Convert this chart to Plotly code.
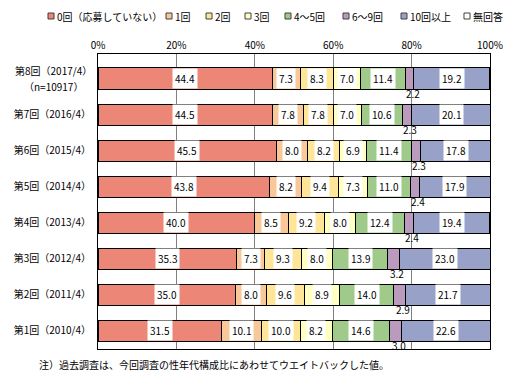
import plotly.graph_objects as go

categories = ["第8回（2017/4）", "第7回（2016/4）", "第6回（2015/4）", "第5回（2014/4）",
              "第4回（2013/4）", "第3回（2012/4）", "第2回（2011/4）", "第1回（2010/4）"]
n_label = "（n=10917）"
series_names = ["0回（応募していない）", "1回", "2回", "3回", "4～5回", "6～9回", "10回以上", "無回答"]
v0 = [44.4, 44.5, 45.5, 43.8, 40.0, 35.3, 35.0, 31.5]
v1 = [7.3, 7.8, 8.0, 8.2, 8.5, 7.3, 8.0, 10.1]
v2 = [8.3, 7.8, 8.2, 9.4, 9.2, 9.3, 9.6, 10.0]
v3 = [7.0, 7.0, 6.9, 7.3, 8.0, 8.0, 8.9, 8.2]
v45 = [11.4, 10.6, 11.4, 11.0, 12.4, 13.9, 14.0, 14.6]
v69 = [2.2, 2.3, 2.3, 2.4, 2.4, 3.2, 2.9, 3.0]
v10 = [19.2, 20.1, 17.8, 17.9, 19.4, 23.0, 21.7, 22.6]
vna = [0.2, 0.0, 0.0, 0.0, 0.0, 0.0, 0.0, 0.0]
series_values = [v0, v1, v2, v3, v45, v69, v10, vna]
x_ticks = [0, 20, 40, 60, 80, 100]
x_tick_labels = ["0%", "20%", "40%", "60%", "80%", "100%"]
note = "注）過去調査は、今回調査の性年代構成比にあわせてウエイトバックした値。"

colors = ["#EC8677", "#F9C898", "#FEE598", "#FFFFC2", "#9FCA8A", "#BA9BBE", "#98A1C8", "#FFFFFF"]
FONT = "Noto Sans CJK JP"

fig = go.Figure()
for name, vals, col in zip(series_names, series_values, colors):
    fig.add_trace(go.Bar(
        y=categories, x=vals, orientation="h", name=name,
        marker=dict(color=col, line=dict(color="#000000", width=1)),
        showlegend=False, hoverinfo="x+name",
    ))

# data labels
annotations = []
for i, cat in enumerate(categories):
    cum = 0.0
    for s, vals in enumerate(series_values):
        v = vals[i]
        center = cum + v / 2
        cum += v
        if s == 7:
            continue
        if s == 5:
            annotations.append(dict(
                x=center, y=cat, xref="x", yref="y", text=f"{v:.1f}", showarrow=False,
                font=dict(size=10, color="#000000", family=FONT), yshift=-15, xshift=3,
            ))
        else:
            annotations.append(dict(
                x=center, y=cat, xref="x", yref="y", text=f"{v:.1f}", showarrow=False,
                font=dict(size=10, color="#000000", family=FONT),
                bgcolor="#FFFFFF", borderpad=2,
            ))

W, L, T, H = 392, 98, 54, 295

# two-line label for the first category (tick text left empty there)
annotations.append(dict(x=0, y=categories[0], xref="paper", yref="y", text=categories[0],
                        showarrow=False, xanchor="right", yanchor="middle", xshift=-4, yshift=8,
                        font=dict(size=10, color="#000000", family=FONT)))
annotations.append(dict(x=(53 - L) / W, y=categories[0], xref="paper", yref="y", text=n_label,
                        showarrow=False, xanchor="center", yanchor="middle", yshift=-8,
                        font=dict(size=10, color="#000000", family=FONT)))

# manual legend (squares + text) across the top
legend_px = [48, 166, 206, 245, 285, 343, 401, 464]
shapes = []
for px, name, col in zip(legend_px, series_names, colors):
    x0 = (px - L) / W
    x1 = (px + 6 - L) / W
    y0 = 1 + (T - 19) / H
    y1 = 1 + (T - 13) / H
    shapes.append(dict(type="rect", xref="paper", yref="paper", x0=x0, x1=x1, y0=y0, y1=y1,
                       fillcolor=col, line=dict(color="#404040", width=1)))
    annotations.append(dict(x=(px + 7 - L) / W, y=1 + (T - 16) / H, xref="paper", yref="paper",
                            text=name, showarrow=False, xanchor="left", yanchor="middle",
                            font=dict(size=10, color="#000000", family=FONT)))

annotations.append(dict(x=(37 - L) / W, y=-(364 - (T + H)) / H, xref="paper", yref="paper",
                        text=note, showarrow=False, xanchor="left", yanchor="middle",
                        font=dict(size=10, color="#000000", family=FONT)))

tick_text = [""] + categories[1:]

fig.update_layout(
    barmode="stack", bargap=0.415,
    width=514, height=381,
    margin=dict(l=98, r=24, t=54, b=32),
    paper_bgcolor="#FFFFFF", plot_bgcolor="#FFFFFF",
    font=dict(family=FONT, size=10, color="#000000"),
    annotations=annotations, shapes=shapes,
    xaxis=dict(range=[0, 100], side="top", tickvals=x_ticks, ticktext=x_tick_labels,
               showgrid=True, gridcolor="#808080", gridwidth=1, zeroline=False,
               showline=True, linecolor="#000000", linewidth=1, mirror=True,
               ticks="", tickfont=dict(size=10, family=FONT)),
    yaxis=dict(autorange="reversed", showgrid=False, zeroline=False,
               tickmode="array", tickvals=categories, ticktext=tick_text,
               showline=True, linecolor="#000000", linewidth=1, mirror=True,
               ticks="", tickfont=dict(size=10, family=FONT), ticklabelstandoff=4),
)

fig.write_html("out.html", config={"displayModeBar": False},
               post_script="document.body.style.margin='0';document.body.style.overflow='hidden';")
